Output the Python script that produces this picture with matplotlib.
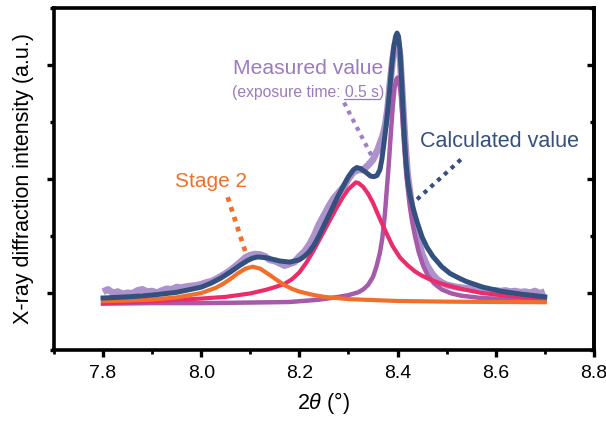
import numpy as np
import matplotlib
matplotlib.use("Agg")
import matplotlib.pyplot as plt
import matplotlib.ticker as mticker

plt.rcParams["font.family"] = ["Liberation Sans", "DejaVu Sans"]
plt.rcParams["mathtext.fontset"] = "custom"
plt.rcParams["mathtext.it"] = "Liberation Sans:italic"
plt.rcParams["mathtext.rm"] = "Liberation Sans"

# ── data (2θ in degrees, intensity in arbitrary units) ──
meas_x = [7.80, 7.81, 7.82, 7.83, 7.84, 7.85, 7.86, 7.87, 7.88, 7.89,
          7.90, 7.91, 7.92, 7.93, 7.94, 7.95, 7.96, 7.97, 7.98, 7.99,
          8.00, 8.01, 8.02, 8.03, 8.04, 8.05, 8.06, 8.07, 8.08, 8.09,
          8.10, 8.11, 8.12, 8.13, 8.14, 8.15, 8.16, 8.17, 8.18, 8.19,
          8.20, 8.21, 8.22, 8.23, 8.24, 8.25, 8.26, 8.27, 8.28, 8.29,
          8.30, 8.31, 8.32, 8.33, 8.34, 8.35, 8.36, 8.37, 8.375, 8.38,
          8.385, 8.39, 8.395, 8.40, 8.405, 8.41, 8.415, 8.42, 8.43, 8.44,
          8.45, 8.46, 8.47, 8.48, 8.49, 8.50, 8.51, 8.52, 8.53, 8.54,
          8.55, 8.56, 8.57, 8.58, 8.59, 8.60, 8.61, 8.62, 8.63, 8.64,
          8.65, 8.66, 8.67, 8.68, 8.69, 8.70]
meas_y = [0.01, 0.03, 0.00, 0.01, -0.01, 0.00, -0.005, 0.02, 0.03, 0.01,
          0.015, 0.00, 0.02, 0.035, 0.03, 0.05, 0.045, 0.055, 0.06, 0.065,
          0.075, 0.09, 0.10, 0.12, 0.145, 0.17, 0.20, 0.235, 0.27, 0.31,
          0.33, 0.34, 0.335, 0.32, 0.29, 0.28, 0.26, 0.24, 0.255, 0.27,
          0.32, 0.36, 0.42, 0.50, 0.60, 0.68, 0.76, 0.83, 0.88, 0.93,
          1.00, 1.06, 1.08, 1.08, 1.12, 1.17, 1.26, 1.38, 1.47, 1.62,
          1.85, 2.05, 2.18, 2.22, 2.08, 1.72, 1.35, 1.05, 0.72, 0.50,
          0.34, 0.24, 0.17, 0.12, 0.09, 0.07, 0.06, 0.05, 0.045, 0.04,
          0.035, 0.03, 0.03, 0.025, 0.02, 0.02, 0.015, 0.02, 0.01, 0.015,
          0.005, 0.01, 0.00, 0.015, -0.005, 0.01]

calc_x = [7.80, 7.85, 7.90, 7.95, 8.00, 8.02, 8.04, 8.06, 8.08, 8.095,
          8.105, 8.115, 8.13, 8.145, 8.16, 8.18, 8.20, 8.21, 8.22, 8.23,
          8.24, 8.25, 8.26, 8.27, 8.28, 8.29, 8.30, 8.31, 8.317, 8.325,
          8.335, 8.345, 8.352, 8.358, 8.364, 8.368, 8.372, 8.376, 8.38, 8.384,
          8.388, 8.392, 8.396, 8.399, 8.402, 8.405, 8.408, 8.411, 8.414, 8.417,
          8.421, 8.426, 8.432, 8.44, 8.45, 8.46, 8.472, 8.49, 8.507, 8.525,
          8.54, 8.574, 8.61, 8.65, 8.70]
calc_y = [-0.045, -0.035, -0.02, 0.005, 0.05, 0.085, 0.13, 0.185, 0.245, 0.285,
          0.305, 0.315, 0.31, 0.295, 0.28, 0.27, 0.29, 0.32, 0.36, 0.42,
          0.50, 0.59, 0.68, 0.77, 0.86, 0.94, 1.02, 1.08, 1.10, 1.09,
          1.06, 1.025, 1.02, 1.03, 1.08, 1.17, 1.30, 1.44, 1.60, 1.78,
          1.98, 2.15, 2.25, 2.28, 2.25, 2.13, 1.90, 1.62, 1.36, 1.16,
          0.98, 0.85, 0.74, 0.62, 0.49, 0.40, 0.32, 0.23, 0.17, 0.13,
          0.10, 0.05, 0.015, -0.01, -0.035]

stage2_x = [7.80, 7.85, 7.90, 7.95, 8.00, 8.03, 8.045, 8.06, 8.075, 8.09,
            8.105, 8.12, 8.14, 8.155, 8.17, 8.185, 8.20, 8.225, 8.25, 8.30,
            8.40, 8.50, 8.60, 8.70]
stage2_y = [-0.072, -0.067, -0.058, -0.040, -0.002, 0.045, 0.080, 0.124, 0.172, 0.212,
            0.230, 0.213, 0.156, 0.110, 0.067, 0.035, 0.011, -0.015, -0.035, -0.055,
            -0.071, -0.077, -0.080, -0.082]

peak2_x = [7.80, 7.90, 8.00, 8.05, 8.10, 8.13, 8.15, 8.17, 8.185, 8.20,
           8.215, 8.23, 8.245, 8.26, 8.275, 8.29, 8.30, 8.31, 8.315, 8.32,
           8.33, 8.34, 8.35, 8.365, 8.38, 8.39, 8.405, 8.42, 8.435, 8.45,
           8.47, 8.49, 8.53, 8.57, 8.60, 8.65, 8.70]
peak2_y = [-0.09, -0.075, -0.05, -0.035, -0.005, 0.025, 0.05, 0.08, 0.12, 0.18,
           0.27, 0.38, 0.50, 0.62, 0.74, 0.85, 0.91, 0.95, 0.97, 0.965,
           0.93, 0.87, 0.79, 0.64, 0.50, 0.41, 0.31, 0.245, 0.19, 0.15,
           0.11, 0.08, 0.035, 0.0, -0.015, -0.035, -0.05]

peak3_x = [7.80, 7.90, 8.00, 8.10, 8.18, 8.24, 8.28, 8.30, 8.32, 8.33,
           8.34, 8.35, 8.357, 8.364, 8.369, 8.374, 8.378, 8.382, 8.386, 8.390,
           8.394, 8.397, 8.40, 8.403, 8.406, 8.409, 8.412, 8.416, 8.42, 8.425,
           8.43, 8.436, 8.443, 8.452, 8.462, 8.475, 8.49, 8.51, 8.53, 8.57,
           8.62, 8.70]
peak3_y = [-0.095, -0.09, -0.09, -0.085, -0.08, -0.06, -0.035, -0.02, 0.005, 0.03,
           0.07, 0.14, 0.23, 0.35, 0.48, 0.68, 0.90, 1.12, 1.38, 1.62,
           1.80, 1.87, 1.89, 1.86, 1.76, 1.60, 1.40, 1.16, 0.95, 0.76,
           0.62, 0.49, 0.36, 0.24, 0.15, 0.08, 0.03, -0.005, -0.025, -0.045,
           -0.055, -0.065]

# ── colours ──
C_MEAS = "#9f80c4"
C_MEAS_TXT = "#9b7bbf"
C_CALC = "#33507e"
C_STAGE2 = "#f26f2b"
C_PEAK2 = "#ec2c6a"
C_PEAK3 = "#a55aaa"

fig = plt.figure(figsize=(6.06, 4.22), dpi=100)
ax = fig.add_axes([0.089, 0.171, 0.891, 0.810])

ax.plot(meas_x, meas_y, color=C_MEAS, lw=5.0, alpha=0.85, solid_capstyle="butt",
        solid_joinstyle="round", zorder=2)
ax.plot(peak3_x, peak3_y, color=C_PEAK3, lw=3.2, solid_joinstyle="round", zorder=3)
ax.plot(peak2_x, peak2_y, color=C_PEAK2, lw=3.0, solid_joinstyle="round", zorder=4)
ax.plot(stage2_x, stage2_y, color=C_STAGE2, lw=3.0, solid_joinstyle="round", zorder=5)
ax.plot(calc_x, calc_y, color=C_CALC, lw=3.6, solid_joinstyle="round", zorder=6)

# ── annotations ──
ax.text(8.217, 1.97, "Measured value", color=C_MEAS_TXT, fontsize=15.2,
        ha="center", va="center")
sub = ax.text(8.217, 1.76, "(exposure time: 0.5 s)", color=C_MEAS_TXT,
              fontsize=11.3, ha="center", va="center")
ax.text(8.608, 1.33, "Calculated value", color=C_CALC, fontsize=15.5,
        ha="center", va="center")
ax.text(8.02, 0.98, "Stage 2", color=C_STAGE2, fontsize=15,
        ha="center", va="center")

ax.plot([8.054, 8.093], [0.84, 0.32], color=C_STAGE2, lw=3.4, ls=(0, (1, 1.2)), zorder=7)
ax.plot([8.291, 8.350], [1.67, 1.18], color=C_MEAS, lw=3.0, ls=(0, (1, 1.2)), zorder=7)
ax.plot([8.529, 8.437], [1.17, 0.81], color=C_CALC, lw=3.0, ls=(0, (1, 1.2)), zorder=7)

# ── axes ──
ax.set_xlim(7.7, 8.8)
ax.set_ylim(-0.5, 2.5)
ax.xaxis.set_major_locator(mticker.MultipleLocator(0.2))
ax.xaxis.set_minor_locator(mticker.MultipleLocator(0.1))
ax.xaxis.set_major_formatter(mticker.FormatStrFormatter("%.1f"))
ax.yaxis.set_major_locator(mticker.MultipleLocator(1))
ax.yaxis.set_minor_locator(mticker.MultipleLocator(0.5))
ax.tick_params(axis="x", which="major", direction="out", length=5, width=2.4,
               labelsize=14, pad=6, top=False)
ax.tick_params(axis="x", which="minor", direction="out", length=3, width=2.0, top=False)
ax.tick_params(axis="y", which="both", direction="out", left=True, right=False,
               labelleft=False, width=2.4)
ax.tick_params(axis="y", which="major", length=5)
ax.tick_params(axis="y", which="minor", length=3)
for s in ax.spines.values():
    s.set_linewidth(2.6)

# inward ticks on the right side
sec = ax.secondary_yaxis("right")
sec.yaxis.set_major_locator(mticker.MultipleLocator(1))
sec.yaxis.set_minor_locator(mticker.MultipleLocator(0.5))
sec.tick_params(which="both", direction="in", labelright=False, width=2.4)
sec.tick_params(which="major", length=5)
sec.tick_params(which="minor", length=3)
sec.spines["right"].set_linewidth(2.6)

ax.set_ylabel("X-ray diffraction intensity (a.u.)", fontsize=15.5, labelpad=9)
ax.set_xlabel(r"$2\theta$ (°)", fontsize=15.5, labelpad=6)

# underline "0.5 s"
fig.canvas.draw()
r = fig.canvas.get_renderer()
bb = sub.get_window_extent(r)
tmp = ax.text(0, 0, "(exposure time: ", fontsize=11.3)
pre_w = tmp.get_window_extent(r).width
tmp.set_text("0.5 s")
num_w = tmp.get_window_extent(r).width
tmp.remove()
x0 = bb.x0 + pre_w
y0 = bb.y0 + 1
inv = ax.transData.inverted()
p0 = inv.transform((x0, y0))
p1 = inv.transform((x0 + num_w, y0))
ax.plot([p0[0], p1[0]], [p0[1], p1[1]], color=C_MEAS_TXT, lw=0.9, zorder=8)

fig.savefig("out.png", dpi=100)
